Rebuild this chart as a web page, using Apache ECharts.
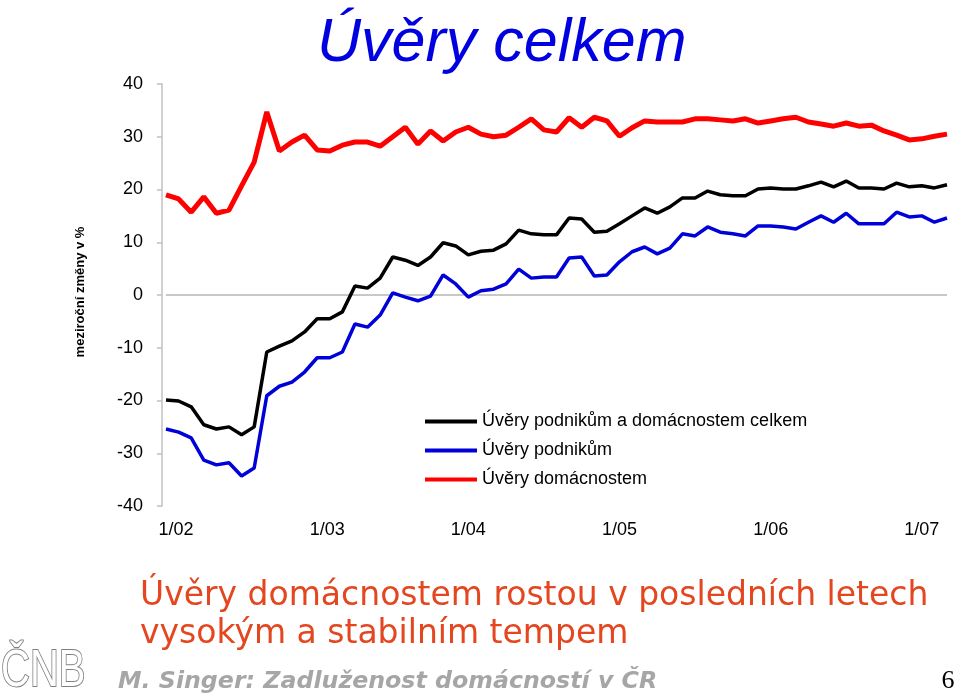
<!DOCTYPE html>
<html>
<head>
<meta charset="utf-8">
<script src="https://cdn.jsdelivr.net/npm/echarts@6/dist/echarts.min.js"></script>
<style>
  html, body { margin: 0; padding: 0; background: #ffffff; }
  #chart { width: 960px; height: 695px; }
</style>
</head>
<body>
<div id="chart"></div>
<script>
// ---- data ----
const categories = [
  '1/02','2/02','3/02','4/02','5/02','6/02','7/02','8/02','9/02','10/02','11/02','12/02',
  '1/03','2/03','3/03','4/03','5/03','6/03','7/03','8/03','9/03','10/03','11/03','12/03',
  '1/04','2/04','3/04','4/04','5/04','6/04','7/04','8/04','9/04','10/04','11/04','12/04',
  '1/05','2/05','3/05','4/05','5/05','6/05','7/05','8/05','9/05','10/05','11/05','12/05',
  '1/06','2/06','3/06','4/06','5/06','6/06','7/06','8/06','9/06','10/06','11/06','12/06',
  '1/07','2/07','3/07'
];
const seriesNames = ['Úvěry podnikům a domácnostem celkem', 'Úvěry podnikům', 'Úvěry domácnostem'];
const uveryCelkem = [
  -19.9, -20.1, -21.2, -24.6, -25.4, -25.0, -26.5, -25.0, -10.8, -9.7,
  -8.7, -7.0, -4.5, -4.5, -3.2, 1.7, 1.3, 3.2, 7.2, 6.6,
  5.6, 7.2, 9.9, 9.3, 7.6, 8.3, 8.5, 9.7, 12.3, 11.6,
  11.4, 11.4, 14.6, 14.4, 11.9, 12.1, 13.5, 15.0, 16.5, 15.5,
  16.7, 18.4, 18.4, 19.7, 19.0, 18.8, 18.8, 20.1, 20.3, 20.1,
  20.1, 20.7, 21.4, 20.5, 21.6, 20.3, 20.3, 20.1, 21.2, 20.5,
  20.7, 20.3, 20.9
];
const uveryPodnikum = [
  -25.4, -26.0, -27.1, -31.3, -32.2, -31.8, -34.3, -32.8, -19.1, -17.3,
  -16.5, -14.6, -11.9, -11.9, -10.8, -5.5, -6.1, -3.8, 0.4, -0.4,
  -1.1, -0.2, 3.8, 2.1, -0.4, 0.8, 1.1, 2.1, 4.9, 3.2,
  3.4, 3.4, 7.0, 7.2, 3.6, 3.8, 6.3, 8.2, 9.1, 7.8,
  8.9, 11.6, 11.2, 12.9, 11.9, 11.6, 11.2, 13.1, 13.1, 12.9,
  12.5, 13.8, 15.0, 13.8, 15.5, 13.5, 13.5, 13.5, 15.7, 14.8,
  15.0, 13.8, 14.6
];
const uveryDomacnostem = [
  19.0, 18.2, 15.7, 18.6, 15.5, 16.1, 20.7, 25.2, 34.7, 27.3,
  29.0, 30.3, 27.5, 27.3, 28.4, 29.0, 29.0, 28.2, 30.0, 31.8,
  28.6, 31.1, 29.2, 30.9, 31.8, 30.5, 30.0, 30.3, 31.8, 33.4,
  31.3, 30.9, 33.6, 31.8, 33.7, 33.0, 30.1, 31.7, 33.0, 32.8,
  32.8, 32.8, 33.4, 33.4, 33.2, 33.0, 33.4, 32.6, 33.0, 33.4,
  33.7, 32.8, 32.4, 32.0, 32.6, 32.0, 32.2, 31.1, 30.3, 29.4,
  29.6, 30.1, 30.5
];
const yTicks = { min: -40, max: 40, interval: 10 };
const titleText = 'Úvěry celkem';
const yAxisTitle = 'meziroční změny v %';
const noteLine1 = 'Úvěry domácnostem rostou v posledních letech';
const noteLine2 = 'vysokým a stabilním tempem';
const footerText = 'M. Singer: Zadluženost domácností v ČR';
const pageNumber = '6';
const logoText = 'ČNB';

// ---- chart ----
const chart = echarts.init(document.getElementById('chart'), null, { renderer: 'canvas' });
const baseFont = 'Liberation Sans, Arial, sans-serif';

const option = {
  animation: false,
  backgroundColor: '#ffffff',
  textStyle: { fontFamily: baseFont },
  title: {
    text: titleText,
    left: 312,
    top: 9,
    textStyle: {
      fontFamily: baseFont,
      fontSize: 61,
      fontStyle: 'italic',
      fontWeight: 'normal',
      color: '#0000e0',
      textShadowColor: '#9a9a9a',
      textShadowOffsetX: 3,
      textShadowOffsetY: 3,
      textShadowBlur: 0
    }
  },
  grid: { left: 166, right: 13, top: 84, bottom: 189, containLabel: false, outerBoundsMode: 'none' },
  legend: {
    orient: 'vertical',
    left: 420,
    top: 406,
    icon: 'rect',
    itemWidth: 52,
    itemHeight: 4,
    itemGap: 8,
    selectedMode: false,
    textStyle: { fontFamily: baseFont, fontSize: 18, lineHeight: 21, color: '#000' },
    data: seriesNames
  },
  xAxis: {
    type: 'category',
    data: categories,
    boundaryGap: false,
    axisLine: { show: false, onZero: false },
    axisTick: { show: false },
    splitLine: { show: false },
    axisLabel: {
      interval: function (i) { return i % 12 === 0; },
      margin: 15,
      color: '#000',
      fontSize: 18,
      fontFamily: baseFont,
      formatter: function (v, i) { return i < 24 ? '{a|' + v + '}' : v; },
      rich: { a: { fontSize: 18, fontFamily: baseFont, color: '#000', padding: [0, 0, 0, 20] } }
    }
  },
  yAxis: {
    type: 'value',
    min: yTicks.min,
    max: yTicks.max,
    interval: yTicks.interval,
    offset: 4,
    axisLine: { show: true, lineStyle: { color: '#c0c0c0', width: 1.5 } },
    axisTick: { show: true, inside: false, length: 5, lineStyle: { color: '#c0c0c0', width: 1.5 } },
    splitLine: { show: false },
    axisLabel: { margin: 19, color: '#000', fontSize: 18, fontFamily: baseFont }
  },
  graphic: [
    {
      type: 'text', x: 80, y: 292, rotation: Math.PI / 2,
      style: { text: yAxisTitle, fontSize: 13, fontWeight: 'bold', fontFamily: baseFont, fill: '#000', textAlign: 'center', textVerticalAlign: 'middle' }
    },
    {
      type: 'text', x: 140, y: 596,
      style: { text: noteLine1, fontSize: 33, fontFamily: 'DejaVu Sans, sans-serif', fill: '#e4461f', textAlign: 'left', textVerticalAlign: 'middle' }
    },
    {
      type: 'text', x: 140, y: 634,
      style: { text: noteLine2, fontSize: 33, fontFamily: 'DejaVu Sans, sans-serif', fill: '#e4461f', textAlign: 'left', textVerticalAlign: 'middle' }
    },
    {
      type: 'text', x: 118, y: 682,
      style: { text: footerText, fontSize: 23.7, fontStyle: 'italic', fontWeight: 'bold', fontFamily: 'DejaVu Sans, sans-serif', fill: '#a6a6a6', textAlign: 'left', textVerticalAlign: 'middle' }
    },
    {
      type: 'text', x: 948, y: 681,
      style: { text: pageNumber, fontSize: 26, fontFamily: 'Liberation Serif, Times New Roman, serif', fill: '#000', textAlign: 'center', textVerticalAlign: 'middle' }
    },
    {
      type: 'text', x: 1, y: 672, scaleX: 0.77,
      style: { text: logoText, fontSize: 52, fontFamily: baseFont, fill: '#ffffff', stroke: '#808080', lineWidth: 2, textAlign: 'left', textVerticalAlign: 'middle' }
    }
  ],
  series: [
    {
      name: seriesNames[0], type: 'line', data: uveryCelkem, symbol: 'none', z: 4,
      lineStyle: { color: '#000000', width: 3.5 }, itemStyle: { color: '#000000' },
      emphasis: { disabled: true },
      markLine: {
        silent: true, symbol: ['none', 'none'], label: { show: false }, z: 1,
        lineStyle: { color: '#c8c8c8', type: 'solid', width: 2 },
        data: [{ yAxis: 0 }]
      }
    },
    {
      name: seriesNames[1], type: 'line', data: uveryPodnikum, symbol: 'none', z: 4,
      lineStyle: { color: '#0000d8', width: 3.5 }, itemStyle: { color: '#0000d8' },
      emphasis: { disabled: true }
    },
    {
      name: seriesNames[2], type: 'line', data: uveryDomacnostem, symbol: 'none', z: 4,
      lineStyle: { color: '#ff0000', width: 5 }, itemStyle: { color: '#ff0000' },
      emphasis: { disabled: true }
    }
  ]
};
chart.setOption(option);
</script>
</body>
</html>
